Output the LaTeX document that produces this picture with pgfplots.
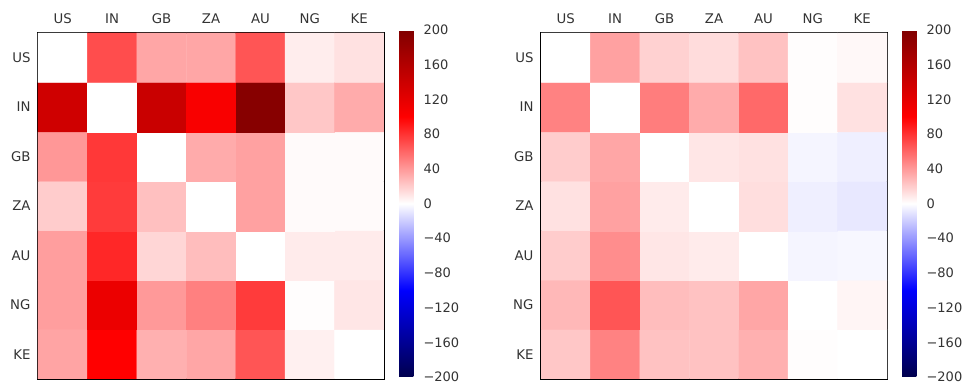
\documentclass[border=0pt]{standalone}
\usepackage{pgfplots}
\pgfplotsset{compat=1.18}
\usepackage{fontspec}
\setmainfont{DejaVu Sans}
\pgfplotsset{
  myheat/.style={
    scale only axis, width=346pt, height=346pt,
    anchor=south west,
    xmin=-0.5, xmax=6.5, ymin=-0.5, ymax=6.5,
    xtick={0,...,6}, ytick={0,...,6},
    xticklabels={US,IN,GB,ZA,AU,NG,KE},
    yticklabels={KE,NG,AU,ZA,GB,IN,US},
    xticklabel pos=upper,
    major tick length=0pt,
    tick label style={font=\fontsize{13.3}{16}\selectfont, text=black!80},
    xticklabel style={yshift=6pt},
    yticklabel style={xshift=-4pt},
    axis line style={line width=1.3pt, black},
    colormap={seismic}{rgb255=(0,0,77) rgb255=(0,0,255) rgb255=(255,255,255) rgb255=(255,0,0) rgb255=(128,0,0)},
    point meta min=-200, point meta max=200,
    colorbar,
    colorbar style={
      scale only axis, width=18pt, height=347pt,
      at={(parent axis.north east)}, anchor=north west, xshift=6.5pt, yshift=3pt,
      ytick={-200,-160,...,200},
      yticklabels={−200,−160,−120,−80,−40,0,40,80,120,160,200},
      major tick length=0pt,
      separate axis lines,
      axis line style={draw=none},
      yticklabel pos=right,
      yticklabel style={font=\fontsize{13}{16}\selectfont, text=black!80, anchor=west, xshift=3pt},
    },
  }
}
\begin{document}
\begin{tikzpicture}
\path[use as bounding box] (0,0) rectangle (967pt,385pt);
\begin{axis}[myheat, at={(38pt,6pt)}]
\addplot[matrix plot*, mesh/cols=7, point meta=explicit] table[meta=c] {
x y c
0 0 36
1 0 100
2 0 31
3 0 35
4 0 67
5 0 6
6 0 0
0 1 38
1 1 115
2 1 40
3 1 50
4 1 77
5 1 1
6 1 10
0 2 38
1 2 85
2 2 16
3 2 26
4 2 0
5 2 8
6 2 8
0 3 20
1 3 77
2 3 25
3 3 0
4 3 37
5 3 2
6 3 2
0 4 41
1 4 78
2 4 0
3 4 33
4 4 37
5 4 2
6 4 2
0 5 138
1 5 0
2 5 143
3 5 105
4 5 195
5 5 22
6 5 33
0 6 0
1 6 70
2 6 35
3 6 35
4 6 67
5 6 7
6 6 12
};
\end{axis}
\begin{axis}[myheat, at={(541pt,6pt)}]
\addplot[matrix plot*, mesh/cols=7, point meta=explicit] table[meta=c] {
x y c
0 0 22
1 0 49
2 0 24
3 0 24
4 0 31
5 0 1
6 0 0
0 1 28
1 1 67
2 1 26
3 1 24
4 1 35
5 1 0
6 1 4
0 2 20
1 2 45
2 2 10
3 2 8
4 2 0
5 2 -4
6 2 -3
0 3 12
1 3 37
2 3 8
3 3 0
4 3 13
5 3 -6
6 3 -9
0 4 20
1 4 35
2 4 0
3 4 10
4 4 12
5 4 -4
6 4 -6
0 5 49
1 5 0
2 5 51
3 5 33
4 5 59
5 5 1
6 5 12
0 6 0
1 6 37
2 6 18
3 6 14
4 6 24
5 6 1
6 6 3
};
\end{axis}
\end{tikzpicture}
\end{document}
